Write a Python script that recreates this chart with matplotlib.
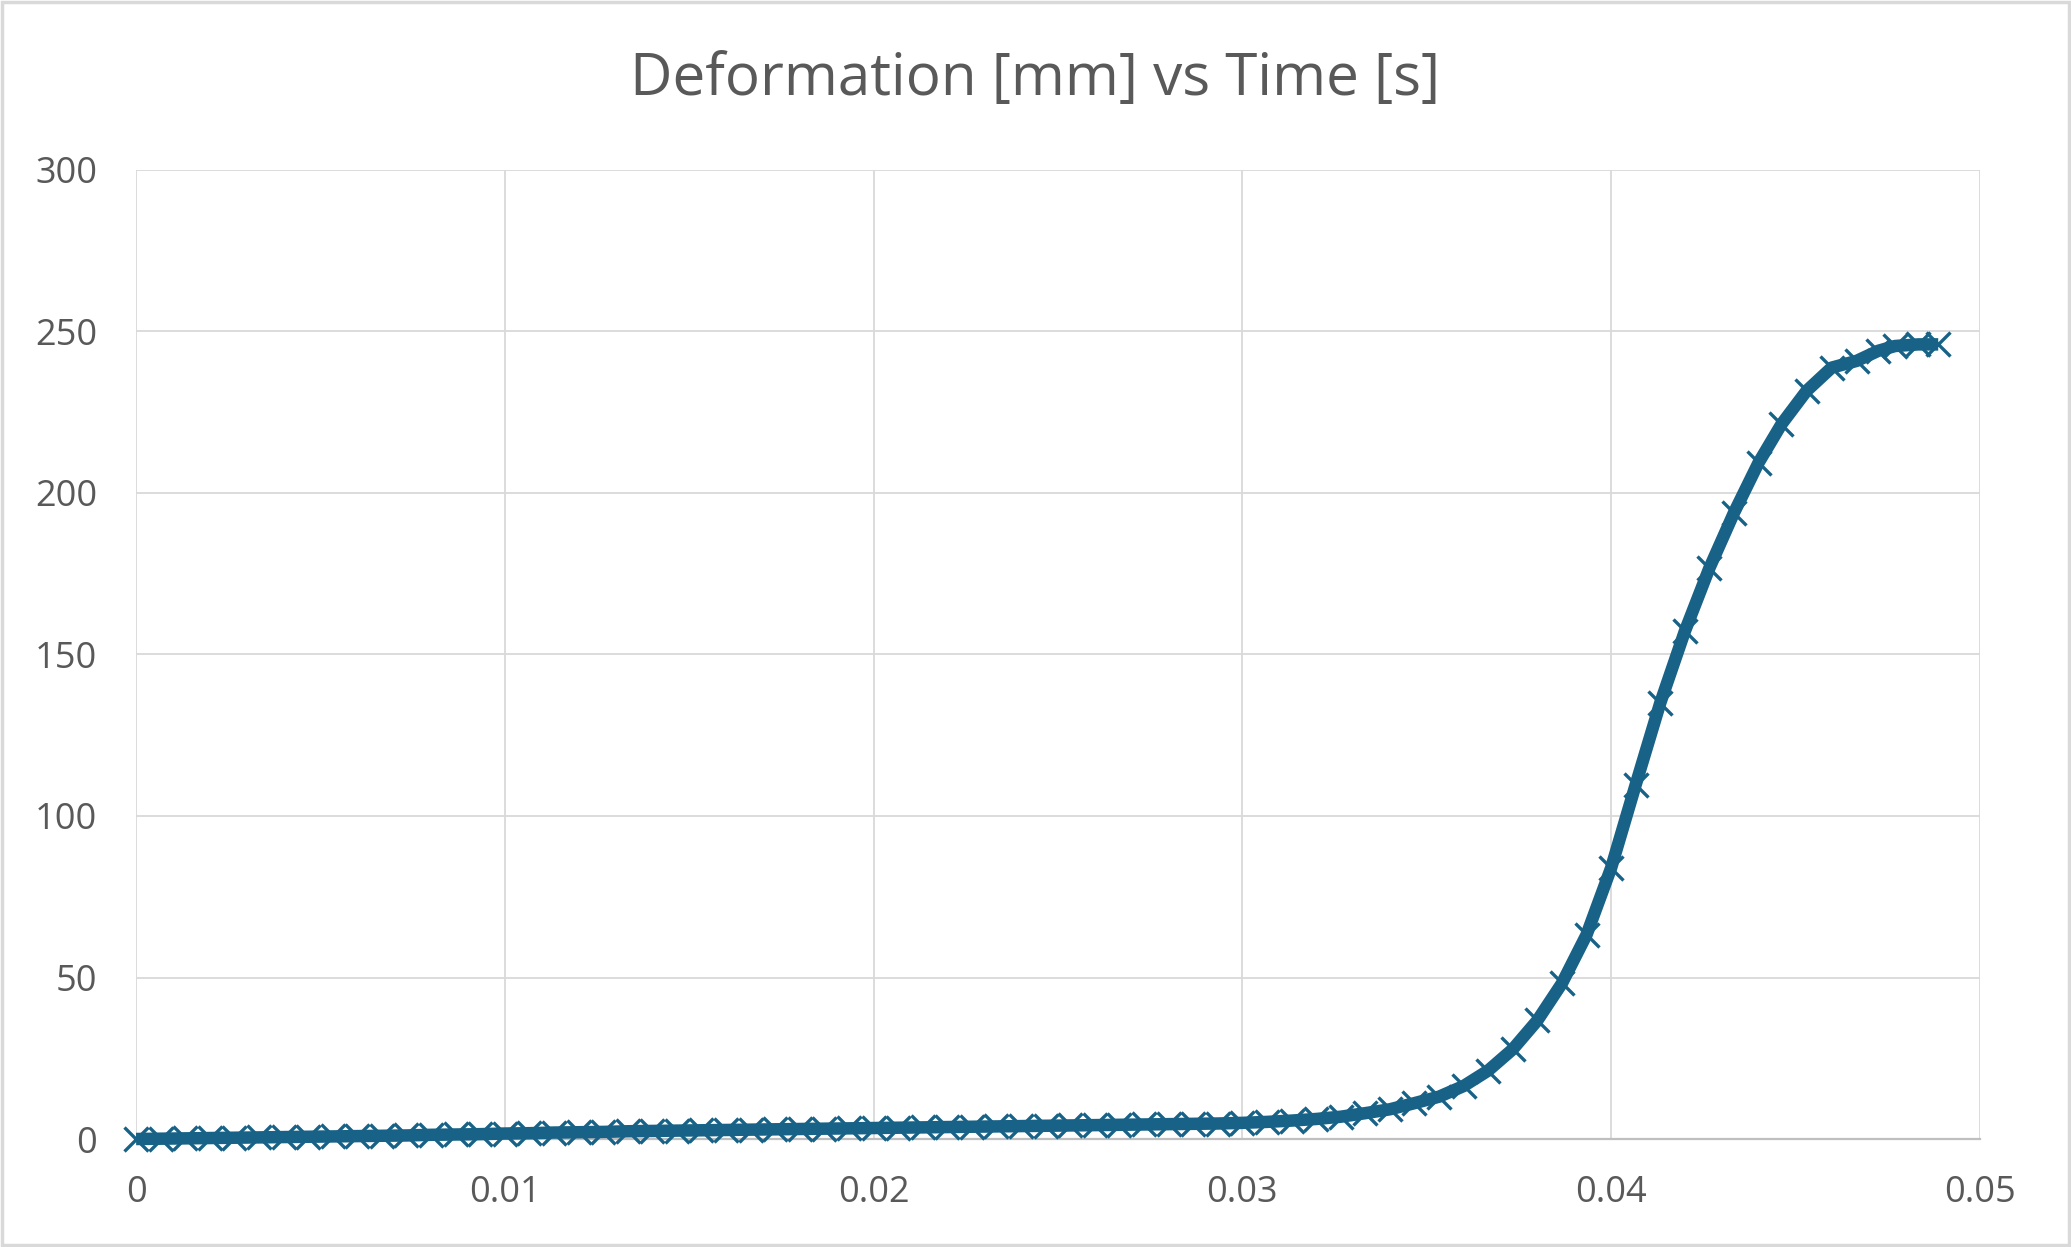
import matplotlib
matplotlib.use("Agg")
import matplotlib.pyplot as plt
from matplotlib.patches import Rectangle

# time [s] and deformation [mm]
time_s = [0.0, 0.000667, 0.001333, 0.002, 0.002667, 0.003333, 0.004, 0.004667,
          0.005333, 0.006, 0.006667, 0.007333, 0.008, 0.008667, 0.009333, 0.01,
          0.010667, 0.011333, 0.012, 0.012667, 0.013333, 0.014, 0.014667, 0.015333,
          0.016, 0.016667, 0.017333, 0.018, 0.018667, 0.019333, 0.02, 0.020667,
          0.021333, 0.022, 0.022667, 0.023333, 0.024, 0.024667, 0.025333, 0.026,
          0.026667, 0.027333, 0.028, 0.028667, 0.029333, 0.03, 0.030667, 0.031333,
          0.032, 0.032667, 0.033333, 0.034, 0.034667, 0.035333, 0.036, 0.036667,
          0.037333, 0.038, 0.038667, 0.039333, 0.04, 0.040667, 0.041333, 0.042,
          0.042667, 0.043333, 0.044, 0.04462, 0.0453, 0.04598, 0.04666, 0.04724,
          0.0477, 0.04833, 0.04887]
deform_mm = [0.0, 0.1, 0.2, 0.3, 0.4, 0.5, 0.6, 0.7,
             0.8, 0.9, 1.0, 1.1, 1.3, 1.4, 1.5, 1.7,
             1.8, 2.0, 2.1, 2.2, 2.4, 2.5, 2.6, 2.7,
             2.8, 2.9, 3.0, 3.1, 3.2, 3.3, 3.4, 3.5,
             3.6, 3.7, 3.8, 3.9, 4.0, 4.1, 4.2, 4.3,
             4.4, 4.5, 4.6, 4.7, 4.8, 5.0, 5.3, 5.7,
             6.2, 6.9, 8.0, 9.2, 11.1, 13.1, 16.4, 21.2,
             27.8, 36.7, 48.2, 63.2, 83.9, 109.7, 135.0, 157.2,
             176.8, 193.9, 209.4, 221.3, 231.6, 238.8, 240.9, 244.0,
             245.5, 246.0, 246.0]

x_ticks = [0, 0.01, 0.02, 0.03, 0.04, 0.05]
x_tick_labels = ["0", "0.01", "0.02", "0.03", "0.04", "0.05"]
y_ticks = [0, 50, 100, 150, 200, 250, 300]

plt.rcParams['font.family'] = ['Open Sans', 'DejaVu Sans']

line_col = '#176286'
txt_col = '#595959'
grid_col = '#d9d9d9'

fig = plt.figure(figsize=(20.71, 12.47), dpi=100)
ax = fig.add_axes([0.0657, 0.0866, 0.8903, 0.7771])

ax.plot(time_s, deform_mm, color=line_col, lw=9, marker='x', ms=17,
        mew=2.4, solid_capstyle='butt', clip_on=False, zorder=3)

ax.set_xlim(0, 0.05)
ax.set_ylim(0, 300)
ax.set_xticks(x_ticks)
ax.set_xticklabels(x_tick_labels)
ax.set_yticks(y_ticks)
ax.tick_params(length=0, labelsize=26, labelcolor=txt_col)
ax.tick_params(axis='x', pad=26)
ax.tick_params(axis='y', pad=28)
ax.grid(True, color=grid_col, lw=1.3)
ax.set_axisbelow(True)

for s in ['top', 'right', 'left']:
    ax.spines[s].set_visible(False)
ax.spines['bottom'].set_color('#bfbfbf')
ax.spines['bottom'].set_linewidth(1.6)

fig.text(0.5, 0.936, "Deformation [mm] vs Time [s]", ha='center', va='center',
         fontsize=42, color=txt_col)

# chart border
fig.patches.append(Rectangle((0.001, 0.002), 0.998, 0.996, transform=fig.transFigure,
                             fill=False, edgecolor=grid_col, lw=2.5))

fig.savefig('out.png', dpi=100)
